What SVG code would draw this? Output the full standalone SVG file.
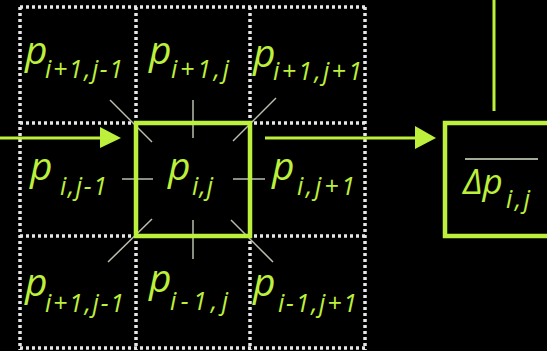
<svg xmlns="http://www.w3.org/2000/svg" width="547" height="351" viewBox="0 0 547 351">
<style>
.dot{stroke:#e6e6e6;stroke-width:3.5;stroke-dasharray:3 3;fill:none}
.lime{stroke:#bdf03c;fill:none}
.ray{stroke:#b9c0ac;stroke-width:1.5}
.p{font-family:"Open Sans","DejaVu Sans",sans-serif;font-style:italic;fill:#bdf03c;font-size:39px}
.s{font-size:25px}
</style>
<rect width="547" height="351" fill="#000"/>
<g id="grid">
<line class="dot" x1="20" y1="7" x2="366" y2="7"/>
<line class="dot" x1="20" y1="123" x2="366" y2="123"/>
<line class="dot" x1="20" y1="236" x2="366" y2="236"/>
<line class="dot" x1="20" y1="348" x2="366" y2="348"/>
<line class="dot" x1="20" y1="7" x2="20" y2="350"/>
<line class="dot" x1="136" y1="7" x2="136" y2="350"/>
<line class="dot" x1="250" y1="7" x2="250" y2="350"/>
<line class="dot" x1="365" y1="7" x2="365" y2="350"/>
</g>
<g id="rays">
<line class="ray" x1="122" y1="179" x2="153" y2="179"/>
<line class="ray" x1="233" y1="179" x2="265" y2="179"/>
<line class="ray" x1="193" y1="100" x2="193" y2="138"/>
<line class="ray" x1="193" y1="220" x2="193" y2="259"/>
<line class="ray" x1="110" y1="100" x2="152" y2="142"/>
<line class="ray" x1="276" y1="98" x2="233" y2="141"/>
<line class="ray" x1="108" y1="262" x2="152" y2="219"/>
<line class="ray" x1="273" y1="262" x2="231" y2="220"/>
</g>
<g id="connectors">
<line class="lime" stroke-width="3" x1="0" y1="138" x2="104" y2="138"/>
<polygon fill="#bdf03c" points="100,127 121,138 100,148"/>
<line class="lime" stroke-width="3" x1="265" y1="138" x2="418" y2="138"/>
<polygon fill="#bdf03c" points="415,126 436,138 415,149"/>
<line class="lime" stroke-width="3" x1="494" y1="0" x2="494" y2="111"/>
</g>
<g id="n-im1-jm1"><text class="p" x="25" y="64">p<tspan class="s" x="45" y="78" textLength="78" lengthAdjust="spacing">i+1,j-1</tspan></text></g>
<g id="n-im1-j"><text class="p" x="149" y="64">p<tspan class="s" x="171" y="78" textLength="58" lengthAdjust="spacing">i+1,j</tspan></text></g>
<g id="n-im1-jp1"><text class="p" x="253" y="67">p<tspan class="s" x="273" y="80" textLength="89" lengthAdjust="spacing">i+1,j+1</tspan></text></g>
<g id="n-i-jm1"><text class="p" x="30" y="180">p<tspan class="s" x="60" y="195" textLength="47" lengthAdjust="spacing">i,j-1</tspan></text></g>
<g id="n-center">
<rect class="lime" stroke-width="4.5" x="136" y="123" width="114" height="113"/>
<text class="p" x="168" y="180">p<tspan class="s" x="192" y="195" textLength="21" lengthAdjust="spacing">i,j</tspan></text>
</g>
<g id="n-i-jp1"><text class="p" x="272" y="180">p<tspan class="s" x="297" y="195" textLength="58" lengthAdjust="spacing">i,j+1</tspan></text></g>
<g id="n-ip1-jm1"><text class="p" x="25" y="296">p<tspan class="s" x="45" y="312" textLength="79" lengthAdjust="spacing">i+1,j-1</tspan></text></g>
<g id="n-ip1-j"><text class="p" x="149" y="292">p<tspan class="s" x="170" y="310" textLength="58" lengthAdjust="spacing">i-1,j</tspan></text></g>
<g id="n-ip1-jp1"><text class="p" x="253" y="296">p<tspan class="s" x="278" y="312" textLength="79" lengthAdjust="spacing">i-1,j+1</tspan></text></g>
<g id="n-output">
<rect class="lime" stroke-width="4.5" x="445" y="123" width="130" height="113"/>
<line stroke="#d6e6c4" stroke-width="1.5" x1="465" y1="159" x2="538" y2="159"/>
<text class="p" x="463" y="194" style="font-size:35px">Δp<tspan class="s" x="506" y="208" textLength="24" lengthAdjust="spacing">i,j</tspan></text>
</g>
</svg>
